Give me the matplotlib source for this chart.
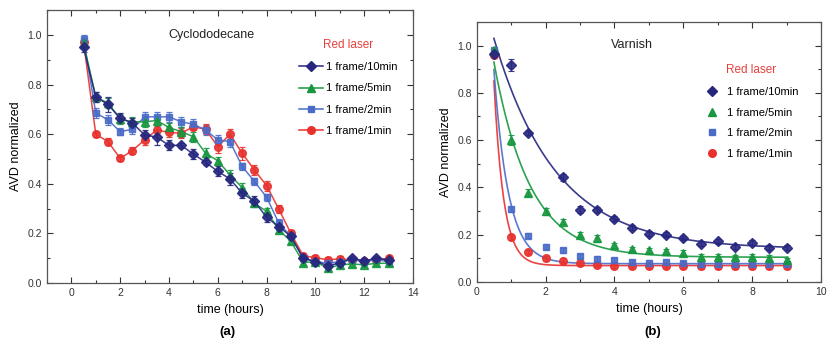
import numpy as np
import matplotlib.pyplot as plt
from matplotlib.lines import Line2D
from matplotlib.ticker import MultipleLocator, FormatStrFormatter

plt.rcParams['font.family'] = ['Liberation Sans', 'DejaVu Sans']

# series labels / colours / markers (shared by both panels)
labels = ['1 frame/10min', '1 frame/5min', '1 frame/2min', '1 frame/1min']
colors = ['#26267f', '#17973f', '#4a6cc8', '#e8312d']
markers = ['D', '^', 's', 'o']
msizes = [5, 5.5, 5, 5.5]

# ---- (a) cyclododecane ----
t_a = [0.5, 1, 1.5, 2, 2.5, 3, 3.5, 4, 4.5, 5, 5.5, 6, 6.5, 7, 7.5, 8, 8.5,
       9, 9.5, 10, 10.5, 11, 11.5, 12, 12.5, 13]
cyc_10min = [0.95, 0.75, 0.72, 0.665, 0.645, 0.597, 0.588, 0.555, 0.555, 0.52,
             0.487, 0.45, 0.42, 0.362, 0.33, 0.265, 0.228, 0.188, 0.10, 0.087,
             0.071, 0.08, 0.10, 0.09, 0.10, 0.094]
cyc_5min = [0.966, 0.75, 0.725, 0.66, 0.65, 0.65, 0.655, 0.627, 0.61, 0.59,
            0.523, 0.493, 0.436, 0.385, 0.322, 0.289, 0.215, 0.168, 0.083,
            0.087, 0.06, 0.074, 0.077, 0.074, 0.08, 0.08]
cyc_2min = [0.983, 0.685, 0.658, 0.61, 0.62, 0.67, 0.67, 0.67, 0.65, 0.64,
            0.617, 0.577, 0.57, 0.47, 0.41, 0.346, 0.242, 0.188, 0.10, 0.087,
            0.08, 0.087, 0.094, 0.087, 0.094, 0.087]
cyc_1min = [0.97, 0.60, 0.57, 0.503, 0.534, 0.577, 0.617, 0.607, 0.604, 0.63,
            0.62, 0.55, 0.60, 0.523, 0.456, 0.393, 0.298, 0.20, 0.11, 0.103,
            0.094, 0.098, 0.094, 0.09, 0.094, 0.10]
cyc_err_10min = [0.02, 0.02, 0.03, 0.02, 0.02, 0.02, 0.03, 0.02, 0.01, 0.02,
                 0.01, 0.02, 0.025, 0.02, 0.02, 0.02, 0.015, 0.015, 0.01, 0.01,
                 0.01, 0.01, 0.01, 0.01, 0.01, 0.01]
cyc_err_5min = [0.02, 0.02, 0.02, 0.02, 0.02, 0.02, 0.02, 0.02, 0.02, 0.02,
                0.02, 0.015, 0.02, 0.02, 0.015, 0.015, 0.01, 0.01, 0.01, 0.01,
                0.01, 0.01, 0.01, 0.01, 0.01, 0.01]
cyc_err_2min = [0.015, 0.02, 0.02, 0.015, 0.02, 0.02, 0.02, 0.02, 0.02, 0.02,
                0.02, 0.02, 0.02, 0.015, 0.015, 0.015, 0.015, 0.01, 0.01, 0.01,
                0.01, 0.01, 0.01, 0.01, 0.01, 0.01]
cyc_err_1min = [0.015, 0.01, 0.015, 0.01, 0.015, 0.02, 0.02, 0.02, 0.02, 0.015,
                0.02, 0.025, 0.02, 0.025, 0.02, 0.02, 0.015, 0.015, 0.01, 0.01,
                0.01, 0.01, 0.01, 0.01, 0.01, 0.01]

# ---- (b) varnish ----
t_b = [0.5, 1, 1.5, 2, 2.5, 3, 3.5, 4, 4.5, 5, 5.5, 6, 6.5, 7, 7.5, 8, 8.5, 9]
t_b_10min = [0.5, 1, 1.5, 2.5, 3, 3.5, 4, 4.5, 5, 5.5, 6, 6.5, 7, 7.5, 8,
             8.5, 9]
var_10min = [0.965, 0.918, 0.63, 0.444, 0.306, 0.306, 0.268, 0.23, 0.204,
             0.20, 0.186, 0.162, 0.173, 0.148, 0.166, 0.145, 0.145]
var_5min = [0.98, 0.60, 0.377, 0.30, 0.256, 0.20, 0.186, 0.155, 0.14, 0.134,
            0.13, 0.124, 0.108, 0.108, 0.106, 0.108, 0.103, 0.094]
var_2min = [0.98, 0.307, 0.196, 0.15, 0.134, 0.11, 0.099, 0.094, 0.085, 0.082,
            0.085, 0.08, 0.077, 0.077, 0.077, 0.077, 0.077, 0.075]
var_1min = [0.958, 0.19, 0.127, 0.10, 0.09, 0.082, 0.073, 0.07, 0.068, 0.068,
            0.068, 0.068, 0.067, 0.067, 0.067, 0.067, 0.067, 0.066]
var_err_10min = [0.015, 0.025, 0.01, 0.015, 0.015, 0.01, 0.01, 0.01, 0.01,
                 0.01, 0.01, 0.01, 0.01, 0.01, 0.01, 0.01, 0.01]
var_err_5min = [0.01, 0.02, 0.015, 0.015, 0.01, 0.01, 0.015, 0.01, 0.01, 0.01,
                0.01, 0.01, 0.01, 0.01, 0.01, 0.01, 0.01, 0.01]

# exponential decay fits y = y0 + A*exp(-(t - 0.5)/tau)
fit_y0 = [0.14, 0.105, 0.078, 0.07]
fit_amp = [0.89, 0.825, 0.82, 0.78]
fit_tau = [1.8, 1.05, 0.42, 0.28]

fig = plt.figure(figsize=(8.3, 3.47), dpi=100)
ax1 = fig.add_axes([0.0566, 0.184, 0.441, 0.787])
ax2 = fig.add_axes([0.5743, 0.187, 0.4150, 0.750])


def style_axes(ax):
    ax.set_ylim(0, 1.1)
    ax.xaxis.set_major_locator(MultipleLocator(2))
    ax.xaxis.set_minor_locator(MultipleLocator(1))
    ax.yaxis.set_major_locator(MultipleLocator(0.2))
    ax.yaxis.set_minor_locator(MultipleLocator(0.1))
    ax.yaxis.set_major_formatter(FormatStrFormatter('%.1f'))
    ax.tick_params(which='both', direction='in', top=True, right=True,
                   labelsize=7.5, colors='#333333', width=0.8)
    ax.tick_params(which='major', length=4)
    ax.tick_params(which='minor', length=2.5)
    for sp in ax.spines.values():
        sp.set_color('#555555')
        sp.set_linewidth(0.9)
    ax.set_xlabel('time (hours)', fontsize=9, labelpad=4)
    ax.set_ylabel('AVD normalized', fontsize=9, labelpad=4)


# panel (a): lines with markers and error bars
cyc = [cyc_10min, cyc_5min, cyc_2min, cyc_1min]
cyc_err = [cyc_err_10min, cyc_err_5min, cyc_err_2min, cyc_err_1min]
for i in [3, 2, 1, 0]:
    ax1.errorbar(t_a, cyc[i], yerr=cyc_err[i], color=colors[i],
                 marker=markers[i], ms=msizes[i], lw=1.1, elinewidth=0.9,
                 capsize=2.5, capthick=0.9, alpha=0.9)
ax1.set_xlim(-1, 14)
style_axes(ax1)
ax1.text(0.45, 0.91, 'Cyclododecane', transform=ax1.transAxes, fontsize=9,
         ha='center', va='center', color='#222222')
handles_a = [Line2D([], [], color=c, marker=m, ms=s, lw=1.1)
             for c, m, s in zip(colors, markers, msizes)]
leg = ax1.legend(handles_a, labels, title='Red laser', loc='upper left',
                 bbox_to_anchor=(0.66, 0.93), frameon=False, fontsize=8,
                 title_fontsize=8.5, handlelength=2.2, handletextpad=0.3,
                 labelspacing=1.0)
leg.get_title().set_color('#e8403c')

# panel (b): markers plus fitted decay curves
var = [var_10min, var_5min, var_2min, var_1min]
var_t = [t_b_10min, t_b, t_b, t_b]
var_err = [var_err_10min, var_err_5min, [0.01] * len(t_b), [0.01] * len(t_b)]
tt = np.linspace(0.5, 9, 300)
for i in [3, 2, 1, 0]:
    ax2.errorbar(var_t[i], var[i], yerr=var_err[i], color=colors[i],
                 marker=markers[i], ms=msizes[i], ls='none', elinewidth=0.8,
                 capsize=2, capthick=0.8, alpha=0.9)
    ax2.plot(tt, fit_y0[i] + fit_amp[i] * np.exp(-(tt - 0.5) / fit_tau[i]),
             color=colors[i], lw=1.2, alpha=0.9)
ax2.set_xlim(0, 10)
style_axes(ax2)
ax2.text(0.45, 0.91, 'Varnish', transform=ax2.transAxes, fontsize=9,
         ha='center', va='center', color='#222222')
handles_b = [Line2D([], [], color=c, marker=m, ms=s, ls='none')
             for c, m, s in zip(colors, markers, msizes)]
leg2 = ax2.legend(handles_b, labels, title='Red laser', loc='upper left',
                  bbox_to_anchor=(0.63, 0.875), frameon=False, fontsize=8,
                  title_fontsize=8.5, handlelength=1.5, handletextpad=0.6,
                  labelspacing=0.95)
leg2.get_title().set_color('#e8403c')

fig.text(0.2735, 0.035, '(a)', fontsize=9.5, fontweight='bold', ha='center')
fig.text(0.787, 0.035, '(b)', fontsize=9.5, fontweight='bold', ha='center')

fig.savefig('out.png', dpi=100)
